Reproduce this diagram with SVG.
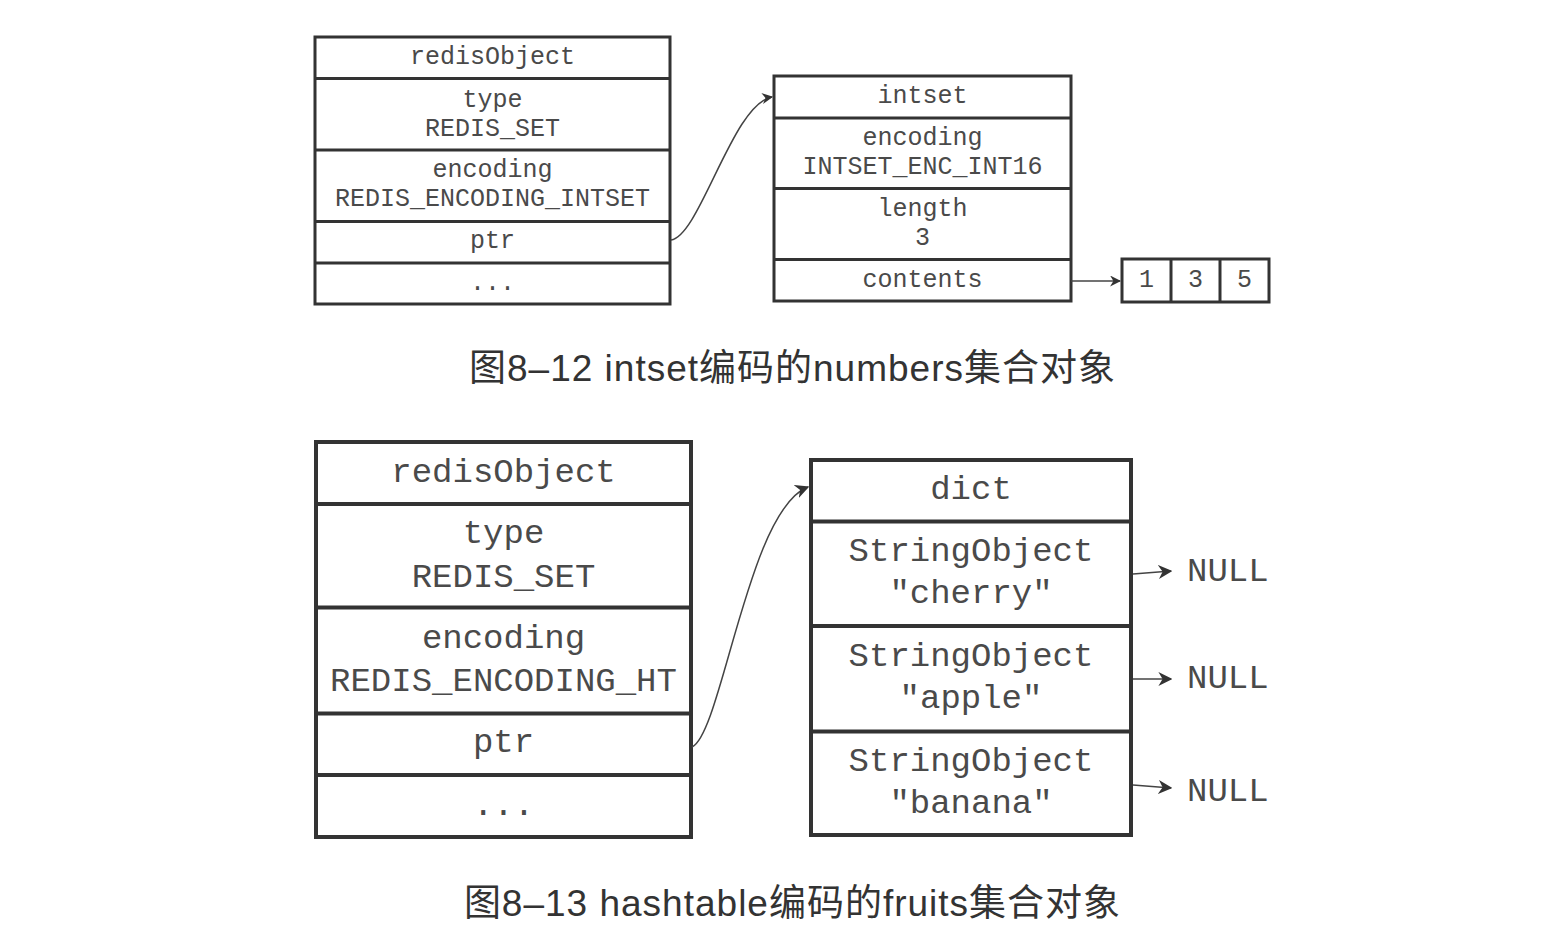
<svg xmlns="http://www.w3.org/2000/svg" width="1562" height="946" viewBox="0 0 1562 946">
<defs>
<style>
.box{fill:#fff;stroke:#333;stroke-width:3}
.box2{fill:#fff;stroke:#333;stroke-width:4}
.div{stroke:#333;stroke-width:3}
.div2{stroke:#333;stroke-width:4}
.t{font-family:"Liberation Mono","Courier New",monospace;font-size:25px;fill:#4a4a4a;text-anchor:middle}
.t2{font-family:"Liberation Mono","Courier New",monospace;font-size:34px;fill:#4a4a4a;text-anchor:middle}
.null{font-family:"Liberation Mono","Courier New",monospace;font-size:34px;fill:#4a4a4a}
.cap{font-family:"Liberation Sans","Noto Sans CJK SC",sans-serif;font-size:37px;letter-spacing:1px;fill:#333;text-anchor:middle}
.conn{fill:none;stroke:#444;stroke-width:1.5}
</style>
<marker id="arr" viewBox="0 0 10 10" refX="9" refY="5" markerWidth="11" markerHeight="11" markerUnits="userSpaceOnUse" orient="auto">
<path d="M0,0 L10,5 L0,10 L3,5 z" fill="#333"/>
</marker>
<marker id="arr2" viewBox="0 0 10 10" refX="9" refY="5" markerWidth="14" markerHeight="14" markerUnits="userSpaceOnUse" orient="auto">
<path d="M0,0 L10,5 L0,10 L3,5 z" fill="#333"/>
</marker>
</defs>
<rect width="1562" height="946" fill="#fff"/>

<g id="redisObject1">
<rect class="box" x="315" y="37" width="355" height="267"/>
<line class="div" x1="315" y1="78.5" x2="670" y2="78.5"/>
<line class="div" x1="315" y1="150" x2="670" y2="150"/>
<line class="div" x1="315" y1="221.5" x2="670" y2="221.5"/>
<line class="div" x1="315" y1="263" x2="670" y2="263"/>
<text class="t" x="492.5" y="64">redisObject</text>
<text class="t" x="492.5" y="107">type</text>
<text class="t" x="492.5" y="136">REDIS_SET</text>
<text class="t" x="492.5" y="177">encoding</text>
<text class="t" x="492.5" y="206">REDIS_ENCODING_INTSET</text>
<text class="t" x="492.5" y="248">ptr</text>
<text class="t" x="492.5" y="290">...</text>
</g>

<g id="intset">
<rect class="box" x="774" y="76" width="297" height="225"/>
<line class="div" x1="774" y1="118" x2="1071" y2="118"/>
<line class="div" x1="774" y1="188.5" x2="1071" y2="188.5"/>
<line class="div" x1="774" y1="259.5" x2="1071" y2="259.5"/>
<text class="t" x="922.5" y="103">intset</text>
<text class="t" x="922.5" y="145">encoding</text>
<text class="t" x="922.5" y="174">INTSET_ENC_INT16</text>
<text class="t" x="922.5" y="216">length</text>
<text class="t" x="922.5" y="245">3</text>
<text class="t" x="922.5" y="287">contents</text>
</g>

<g id="array">
<rect class="box" x="1122" y="259" width="147" height="43"/>
<line class="div" x1="1171" y1="259" x2="1171" y2="302"/>
<line class="div" x1="1220" y1="259" x2="1220" y2="302"/>
<text class="t" x="1146.5" y="287">1</text>
<text class="t" x="1195.5" y="287">3</text>
<text class="t" x="1244.5" y="287">5</text>
</g>

<g id="redisObject2">
<rect class="box2" x="316" y="442" width="375" height="395"/>
<line class="div2" x1="316" y1="504" x2="691" y2="504"/>
<line class="div2" x1="316" y1="607.5" x2="691" y2="607.5"/>
<line class="div2" x1="316" y1="713.5" x2="691" y2="713.5"/>
<line class="div2" x1="316" y1="775" x2="691" y2="775"/>
<text class="t2" x="503.5" y="482">redisObject</text>
<text class="t2" x="503.5" y="543">type</text>
<text class="t2" x="503.5" y="587">REDIS_SET</text>
<text class="t2" x="503.5" y="648">encoding</text>
<text class="t2" x="503.5" y="691">REDIS_ENCODING_HT</text>
<text class="t2" x="503.5" y="752">ptr</text>
<text class="t2" x="503.5" y="815">...</text>
</g>

<g id="dict">
<rect class="box2" x="811" y="460" width="320" height="375"/>
<line class="div2" x1="811" y1="521.5" x2="1131" y2="521.5"/>
<line class="div2" x1="811" y1="626" x2="1131" y2="626"/>
<line class="div2" x1="811" y1="731.5" x2="1131" y2="731.5"/>
<text class="t2" x="971" y="499">dict</text>
<text class="t2" x="971" y="561">StringObject</text>
<text class="t2" x="971" y="603">"cherry"</text>
<text class="t2" x="971" y="666">StringObject</text>
<text class="t2" x="971" y="708">"apple"</text>
<text class="t2" x="971" y="771">StringObject</text>
<text class="t2" x="971" y="813">"banana"</text>
</g>

<g id="nulls">
<text class="null" x="1187" y="581">NULL</text>
<text class="null" x="1187" y="688">NULL</text>
<text class="null" x="1187" y="801">NULL</text>
</g>

<g id="connectors">
<path class="conn" d="M671,240 C700,236 733,103 772,97" marker-end="url(#arr)"/>
<path class="conn" d="M1071,281 L1120,281" marker-end="url(#arr)"/>
<path class="conn" d="M692,747 C722,733 748,510 808,487" marker-end="url(#arr2)"/>
<path class="conn" d="M1133,574 L1171,571" marker-end="url(#arr2)"/>
<path class="conn" d="M1133,679 L1171,679" marker-end="url(#arr2)"/>
<path class="conn" d="M1133,785 L1171,788" marker-end="url(#arr2)"/>
</g>

<g id="captions">
<text class="cap" x="792.5" y="381">图8–12 intset编码的numbers集合对象</text>
<text class="cap" x="792.5" y="916">图8–13 hashtable编码的fruits集合对象</text>
</g>
</svg>
